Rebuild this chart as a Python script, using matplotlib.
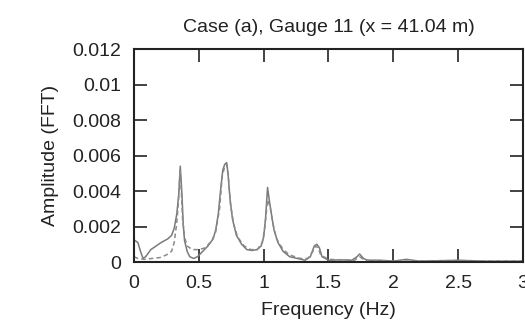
import matplotlib
matplotlib.use("Agg")
import matplotlib.pyplot as plt

plt.rcParams['font.family'] = ['Liberation Sans', 'DejaVu Sans']

# Measured spectrum (solid)
freq_meas = [0.00, 0.03, 0.05, 0.07, 0.09, 0.13, 0.17, 0.21, 0.26, 0.29, 0.31, 0.33,
             0.345, 0.357, 0.37, 0.38, 0.39, 0.41, 0.43, 0.46, 0.49, 0.53, 0.57, 0.61,
             0.63, 0.65, 0.67, 0.685, 0.70, 0.715, 0.725, 0.74, 0.76, 0.79, 0.83, 0.87,
             0.91, 0.95, 0.98, 1.00, 1.015, 1.03, 1.045, 1.06, 1.08, 1.11, 1.15, 1.20,
             1.26, 1.32, 1.36, 1.39, 1.41, 1.43, 1.45, 1.50, 1.60, 1.68, 1.72, 1.74,
             1.77, 1.80, 1.90, 2.00, 2.10, 2.20, 2.50, 2.70, 3.00]
amp_meas = [0.00125, 0.0011, 0.0006, 0.0002, 0.0003, 0.0007, 0.0009, 0.0011, 0.0013, 0.0015,
            0.0019, 0.0027, 0.0038, 0.0054, 0.0038, 0.0021, 0.0012, 0.0006, 0.0003, 0.0002,
            0.0003, 0.0006, 0.0009, 0.0013, 0.0018, 0.0027, 0.0042, 0.0052, 0.0055, 0.0056,
            0.0050, 0.0036, 0.0024, 0.0015, 0.0010, 0.0007, 0.00065, 0.0007, 0.0009, 0.0014,
            0.0025, 0.0042, 0.0034, 0.0027, 0.0018, 0.0011, 0.0006, 0.0003, 0.0002, 0.0001,
            0.0003, 0.0009, 0.0010, 0.0008, 0.0003, 0.0001, 0.00012, 0.0001, 0.0003, 0.00045,
            0.0002, 0.0001, 0.0001, 0.00005, 0.00015, 0.00005, 0.0001, 0.00005, 0.00005]

# Computed spectrum (dashed)
freq_comp = [0.00, 0.03, 0.08, 0.14, 0.20, 0.25, 0.29, 0.31, 0.33, 0.345, 0.355, 0.365,
             0.375, 0.39, 0.41, 0.45, 0.50, 0.55, 0.60, 0.63, 0.66, 0.68, 0.70, 0.715,
             0.73, 0.745, 0.77, 0.80, 0.85, 0.90, 0.95, 0.99, 1.01, 1.03, 1.05, 1.07,
             1.10, 1.15, 1.20, 1.28, 1.34, 1.38, 1.40, 1.42, 1.44, 1.50, 1.70, 1.74,
             1.78, 2.00, 3.00]
amp_comp = [0.0003, 0.0002, 0.00015, 0.0002, 0.00025, 0.0004, 0.0006, 0.0011, 0.0022, 0.0036,
            0.0052, 0.0040, 0.0024, 0.0014, 0.0009, 0.0007, 0.0007, 0.0008, 0.0012, 0.0017,
            0.0030, 0.0048, 0.0054, 0.0055, 0.0046, 0.0032, 0.0021, 0.0014, 0.0009, 0.0007,
            0.0007, 0.0011, 0.0020, 0.0035, 0.0031, 0.0022, 0.0013, 0.0007, 0.0004, 0.0002,
            0.0002, 0.0006, 0.0009, 0.0008, 0.0004, 0.00015, 0.0001, 0.0003, 0.0001, 0.00005,
            0.00005]

x_ticks = [0, 0.5, 1, 1.5, 2, 2.5, 3]
x_tick_labels = ['0', '0.5', '1', '1.5', '2', '2.5', '3']
y_ticks = [0, 0.002, 0.004, 0.006, 0.008, 0.01, 0.012]
y_tick_labels = ['0', '0.002', '0.004', '0.006', '0.008', '0.01', '0.012']

fig = plt.figure(figsize=(5.25, 3.25), dpi=100)
ax = fig.add_axes([0.2552, 0.1938, 0.741, 0.6554])

ax.plot(freq_meas, amp_meas, color='#7a7a7a', lw=1.1, solid_joinstyle='round')
ax.plot(freq_comp, amp_comp, color='#8a8a8a', lw=1.1, dashes=(3, 2))

ax.set_xlim(0, 3)
ax.set_ylim(0, 0.012)
ax.set_xticks(x_ticks)
ax.set_xticklabels(x_tick_labels)
ax.set_yticks(y_ticks)
ax.set_yticklabels(y_tick_labels)

ax.tick_params(direction='in', length=9.5, width=1.2, top=True, right=True,
               labelsize=14, colors='#222222')
ax.tick_params(axis='x', pad=9)
ax.tick_params(axis='y', pad=9)
for sp in ax.spines.values():
    sp.set_linewidth(1.5)
    sp.set_color('#222222')

ax.set_xlabel('Frequency (Hz)', fontsize=14, color='#222222', labelpad=7.5)
ax.set_ylabel('Amplitude (FFT)', fontsize=14, color='#222222', labelpad=10)
ax.set_title('Case (a), Gauge 11 (x = 41.04 m)', fontsize=14, color='#222222', pad=12)

fig.savefig('out.png', dpi=100)
